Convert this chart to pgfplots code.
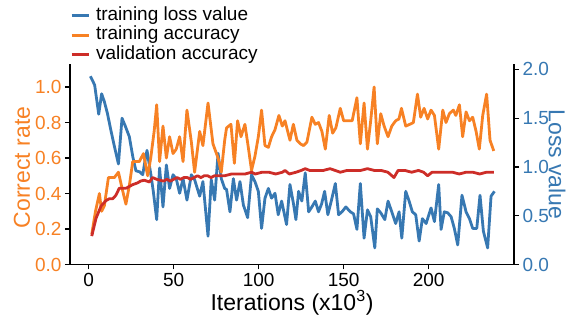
\documentclass[border=0pt]{standalone}
\usepackage{pgfplots}
\pgfplotsset{compat=1.18}
\usepackage{fontspec}
\setmainfont{Liberation Sans}
\definecolor{blueC}{RGB}{55,120,178}
\definecolor{orangeC}{RGB}{247,129,36}
\definecolor{redC}{RGB}{205,45,40}
\begin{document}
\begin{tikzpicture}
\useasboundingbox (-70pt,-59.5pt) rectangle (496pt,264.5pt);
% ---------- loss axis (right) ----------
\begin{axis}[
  scale only axis, width=444pt, height=200pt,
  xmin=-11, xmax=250.2, ymin=0, ymax=2.05,
  axis x line=none, axis y line*=right,
  axis line style={line width=1.3pt, black, -},
  tick align=outside, major tick length=5pt,
  tick style={line width=1.2pt, black},
  ytick={0,0.5,1,1.5,2},
  yticklabel style={/pgf/number format/fixed, /pgf/number format/fixed zerofill, /pgf/number format/precision=1, font=\fontsize{19}{20}\selectfont, text=blueC},
  /pgf/number format/assume math mode=true,
  ylabel={Loss value},
  ylabel style={font=\fontsize{23}{24}\selectfont, text=blueC, at={(axis description cs:1.097,0.5)}, anchor=center, rotate=180},
]
\addplot[blueC, line width=2.8pt, line join=round] coordinates {
(1,1.93)(3.5,1.84)(5.9,1.54)(7.6,1.75)(9.2,1.67)(11,1.55)(13,1.38)(15,1.22)(17.5,1.03)(19.6,1.50)(21.5,1.42)(23.9,1.31)(26,1.10)(27.8,0.96)(30,0.95)(31.8,0.92)(33,1.05)(34.3,1.17)(36.6,0.92)(38,0.75)(40,0.46)(41.7,0.99)(43.7,0.59)(45.7,1.02)(47.6,0.78)(49.6,0.92)(51.5,0.88)(53.5,0.73)(55.5,0.88)(57.8,0.66)(60.4,0.92)(62.3,0.87)(65.3,0.70)(67.2,0.85)(70.2,0.29)(72.1,0.87)(74.1,0.66)(76.1,1.14)(78,0.88)(80,0.78)(81.1,0.77)(83.1,0.54)(85.1,0.88)(87,0.66)(89,0.85)(91,0.61)(93.5,0.48)(95.8,0.92)(97.8,0.85)(99.8,0.75)(101.7,0.37)(103.7,0.68)(105.7,0.78)(107.6,0.68)(109.6,0.73)(111.5,0.51)(113.5,0.65)(116.4,0.41)(118.4,0.82)(120.5,0.62)(121.9,0.46)(123.5,0.75)(125.4,0.65)(127.4,0.94)(129.4,0.54)(131.3,0.59)(133.3,0.65)(135.2,0.54)(137,0.62)(138.8,0.75)(140.7,0.51)(142.7,0.65)(145.1,0.83)(147,0.51)(149,0.54)(151.3,0.59)(153.9,0.54)(155.8,0.52)(157.8,0.36)(159.8,0.83)(162,0.27)(164,0.56)(165.9,0.49)(168.3,0.17)(169.8,0.57)(171.8,0.53)(174.2,0.46)(176.1,0.65)(178.3,0.54)(180.6,0.42)(182.6,0.54)(184.2,0.27)(186.5,0.75)(188.5,0.65)(190.4,0.54)(192.4,0.51)(194.4,0.24)(196.3,0.47)(198.5,0.42)(201.4,0.58)(203.4,0.44)(205.9,0.82)(207.3,0.36)(209.2,0.54)(211.2,0.53)(213.2,0.49)(215.1,0.37)(217.1,0.20)(219.6,0.71)(222,0.54)(224,0.47)(225.9,0.37)(228.3,0.37)(230.2,0.71)(232.2,0.34)(234.7,0.17)(236.7,0.70)(238.7,0.75)
};
\end{axis}
% ---------- accuracy axis (left) ----------
\begin{axis}[
  scale only axis, width=444pt, height=200pt,
  xmin=-11, xmax=250.2, ymin=0, ymax=1.127,
  axis x line*=bottom, axis y line*=left,
  axis line style={line width=1.3pt, black, -},
  tick align=outside, major tick length=5pt,
  tick style={line width=1.2pt, black},
  xtick={0,50,100,150,200},
  ytick={0,0.2,0.4,0.6,0.8,1.0},
  yticklabel style={/pgf/number format/fixed, /pgf/number format/fixed zerofill, /pgf/number format/precision=1, text=orangeC},
  ticklabel style={font=\fontsize{19}{20}\selectfont},
  /pgf/number format/assume math mode=true,
  ylabel={Correct rate},
  ylabel style={font=\fontsize{23}{24}\selectfont, text=orangeC, at={(axis description cs:-0.108,0.485)}, anchor=center},
  xlabel={Iterations (x10\textsuperscript{3})},
  xlabel style={font=\fontsize{23}{24}\selectfont, at={(axis description cs:0.5,-0.1925)}, anchor=center},
  legend style={draw=none, fill=none, at={(axis description cs:0.0,1.294)}, anchor=north west, inner sep=0pt, row sep=0pt,
    font=\fontsize{19}{20}\selectfont, nodes={text height=14pt, text depth=4.5pt, inner ysep=0.5pt}},
  legend cell align=left,
]
\addlegendimage{blueC, line width=2.4pt}
\addlegendentry{\hspace{4pt}training loss value}
\addplot[orangeC, line width=2.8pt, line join=round] coordinates {
(1.8,0.17)(4,0.30)(6.3,0.40)(7.6,0.30)(9.2,0.33)(11.6,0.49)(15.1,0.49)(17.5,0.52)(19.6,0.43)(21.9,0.34)(24,0.45)(25.9,0.58)(29.8,0.58)(32.2,0.625)(34.7,0.50)(36.5,0.60)(38.5,0.75)(40,0.90)(41.7,0.58)(43.7,0.78)(45.7,0.60)(47.6,0.72)(49.6,0.625)(51.5,0.65)(53.5,0.72)(55.5,0.58)(57.8,0.87)(60.4,0.69)(62.3,0.52)(65.3,0.75)(67.2,0.67)(70.2,0.91)(73.1,0.68)(76.1,0.60)(78,0.52)(80,0.70)(81.1,0.77)(83.7,0.79)(85.7,0.57)(87.6,0.81)(89.6,0.72)(91.9,0.79)(93.9,0.66)(95.8,0.53)(97.8,0.61)(99.8,0.72)(101.7,0.87)(103.7,0.67)(105.7,0.66)(107.6,0.72)(109.6,0.76)(111.9,0.84)(113.9,0.78)(115.5,0.81)(118.4,0.70)(120.4,0.79)(122.5,0.70)(124.5,0.68)(126.4,0.67)(128.4,0.69)(131.3,0.83)(133.3,0.79)(135.2,0.80)(137.2,0.75)(139.2,0.65)(141.5,0.84)(143.5,0.74)(145.4,0.77)(148,0.88)(150,0.81)(152.9,0.81)(155,0.81)(157.8,0.94)(159.8,0.68)(162,0.91)(164,0.65)(165.9,0.81)(167.9,1.00)(169.8,0.68)(171.8,0.85)(173.8,0.78)(176.1,0.72)(178.3,0.78)(180.6,0.81)(182.5,0.82)(184,0.88)(186.5,0.78)(188.9,0.79)(191,0.80)(193.4,0.96)(195.3,0.83)(197.3,0.88)(199.4,0.82)(201.4,0.87)(203.4,0.84)(205.9,0.65)(208.3,0.87)(210.2,0.80)(212.2,0.85)(214.5,0.87)(216,0.84)(218.1,0.90)(220,0.72)(222,0.86)(224,0.81)(225.9,0.83)(227.9,0.75)(229.8,0.65)(231.8,0.84)(234.1,0.96)(236.1,0.70)(238.3,0.64)
};
\addlegendentry{\hspace{4pt}training accuracy}
\addplot[redC, line width=2.8pt, line join=round] coordinates {
(1.8,0.16)(4.3,0.26)(7.3,0.33)(10.2,0.36)(12,0.37)(14.1,0.37)(16,0.39)(18,0.43)(20,0.43)(22,0.43)(24,0.44)(25.9,0.45)(28.8,0.46)(30.5,0.47)(32.7,0.475)(35.7,0.465)(37.6,0.49)(40,0.48)(42,0.475)(44,0.47)(46,0.48)(48,0.47)(50,0.48)(52,0.49)(54,0.48)(56,0.49)(58,0.49)(60,0.48)(62,0.49)(64,0.50)(66,0.49)(68,0.50)(70,0.50)(72,0.49)(74,0.50)(76,0.50)(78,0.50)(80,0.50)(84,0.51)(88,0.51)(92,0.51)(95.8,0.52)(98,0.51)(102,0.52)(106,0.52)(110,0.51)(114,0.52)(115.5,0.53)(118,0.51)(122,0.52)(125,0.53)(127.4,0.54)(130,0.53)(134,0.53)(138,0.53)(142,0.54)(145,0.53)(148,0.52)(152,0.53)(156,0.53)(160,0.53)(164,0.54)(168,0.53)(172,0.53)(176,0.52)(179.6,0.49)(182,0.53)(186,0.53)(190,0.52)(194,0.53)(197,0.52)(199.4,0.50)(202,0.52)(206,0.52)(210,0.52)(214,0.52)(218,0.51)(222,0.52)(226,0.52)(230,0.51)(234,0.52)(238.3,0.52)
};
\addlegendentry{\hspace{4pt}validation accuracy}
\end{axis}
\end{tikzpicture}
\end{document}
